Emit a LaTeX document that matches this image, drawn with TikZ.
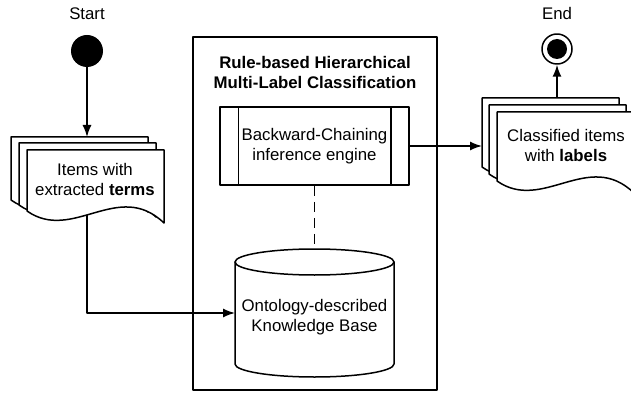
\documentclass[tikz,border=0pt]{standalone}
\usepackage{fontspec}
\setmainfont{Liberation Sans}
\usetikzlibrary{arrows.meta}

% A sheet with a wavy lower edge: #1,#2 top-left corner, #3 width, #4 height at the left side
\newcommand\docsheet[4]{%
  \filldraw[ln, fill=white] (#1,#2) -- ({#1+#3},#2) -- ({#1+#3},{#2+#4+12})
    .. controls ({#1+2*#3/3},{#2+#4-32}) and ({#1+#3/3},{#2+#4+32}) .. (#1,{#2+#4}) -- cycle;}

\tikzset{
  ln/.style={line width=1.5pt, line join=round},
  arr/.style={ln, -{Latex[length=12pt,width=9pt]}},
  txt/.style={align=center, inner sep=0pt, font=\fontsize{16.8}{20}\selectfont},
}

\begin{document}
\begin{tikzpicture}[x=1pt, y=-1pt]
\clip (0,0) rectangle (631,398);
\fill[white] (0,0) rectangle (631,398);

% system frame and its heading
\draw[ln] (193,37) rectangle (437,390);
\node[txt, font=\fontsize{16.8}{20}\selectfont\bfseries] (title) at (315,72)
  {Rule-based Hierarchical\\Multi-Label Classification};

% start and end markers
\node[txt, anchor=base] (startlbl) at (87,20) {Start};
\node[circle, fill=black, minimum size=32pt, inner sep=0pt] (start) at (87,51) {};
\node[txt, anchor=base] (endlbl) at (557,20) {End};
\node[circle, draw, ln, fill=white, minimum size=30pt, inner sep=0pt] (endc) at (557,49) {};
\node[circle, fill=black, minimum size=20pt, inner sep=0pt] at (557,49) {};

% input document stack
\docsheet{11}{137}{137}{63}
\docsheet{19}{143}{137}{62}
\docsheet{27}{150}{137}{61}
\node[txt] (docL) at (95,179) {Items with\\extracted \textbf{terms}};
\coordinate (docLin) at (87,137);
\coordinate (docLout) at (87,214.7);

% output document stack
\docsheet{482}{98}{137}{69}
\docsheet{489}{105}{137}{69}
\docsheet{497}{112}{137}{69}
\node[txt] (docR) at (566,145) {Classified items\\with \textbf{labels}};
\coordinate (docRin) at (482,146);
\coordinate (docRout) at (557,98);

% inference engine (predefined process box)
\node[ln, draw, fill=white, minimum width=189pt, minimum height=78pt, txt] (engine) at (314.5,146)
  {Backward-Chaining\\inference engine};
\draw[ln] ([xshift=19pt]engine.north west) -- ([xshift=19pt]engine.south west);
\draw[ln] ([xshift=-19pt]engine.north east) -- ([xshift=-19pt]engine.south east);

% knowledge base cylinder
\filldraw[ln, fill=white] (235,262) -- (235,364)
  arc[start angle=180, end angle=0, x radius=79.5, y radius=13] -- (394,262) -- cycle;
\filldraw[ln, fill=white] (314.5,262) ellipse [x radius=79.5, y radius=13];
\node[txt] (kb) at (314.5,317) {Ontology-described\\Knowledge Base};
\coordinate (kbtop) at (314.5,249);
\coordinate (kbwest) at (235,313);

% connectors
\draw[arr] (start) -- (docLin);
\draw[arr] (docLout) |- (kbwest);
\draw[arr] (engine.east) -- (docRin);
\draw[arr] (docRout) -- (endc);
\draw[ln, dash pattern=on 10pt off 6pt] (engine.south) -- (kbtop);
\end{tikzpicture}
\end{document}
